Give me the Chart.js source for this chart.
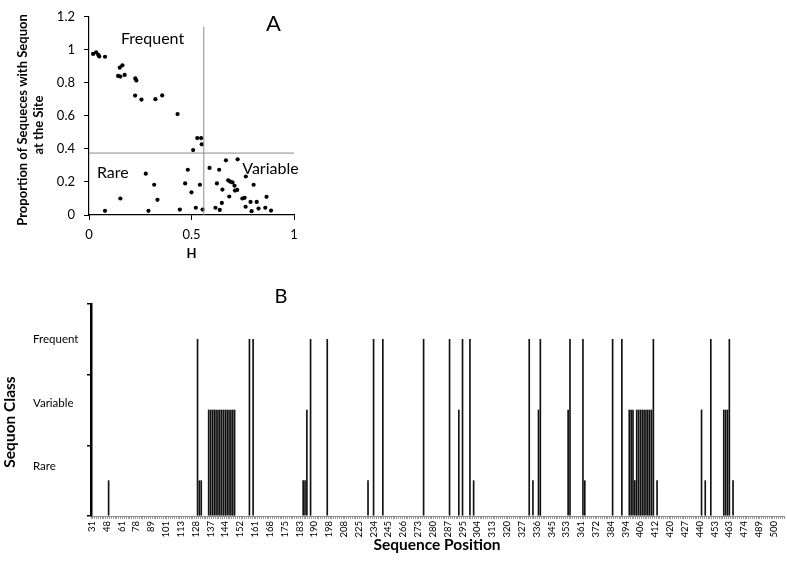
<!DOCTYPE html>
<html><head><meta charset="utf-8">
<script src="https://cdn.jsdelivr.net/npm/chart.js@4/dist/chart.umd.min.js"></script>
<style>
html,body{margin:0;padding:0;background:#fff;}
body{width:787px;height:563px;position:relative;overflow:hidden;}
#a{position:absolute;left:0;top:0;width:310px;height:268px;}
#b{position:absolute;left:0;top:270px;width:787px;height:293px;}
</style></head><body>
<canvas id="a" width="310" height="268"></canvas>
<canvas id="b" width="787" height="293"></canvas>
<script>
const FONT = 'Lato, "Open Sans", sans-serif';

// ---------- Panel A data ----------
const hValues = [0.02,0.035,0.045,0.05,0.078,0.142,0.153,0.150,0.163,0.174,0.226,0.231,0.225,0.256,0.324,0.357,0.432,0.528,0.547,0.550,0.508,
  0.482,0.469,0.500,0.443,0.521,0.554,0.541,0.277,0.318,0.334,0.290,0.153,0.078,
  0.588,0.668,0.725,0.635,0.624,0.651,0.648,0.617,0.638,0.679,0.689,0.700,0.710,0.712,0.723,0.684,0.765,0.748,0.759,0.764,0.788,0.803,0.793,0.818,0.827,0.866,0.860,0.888];
const proportionValues = [0.975,0.985,0.970,0.960,0.958,0.842,0.838,0.892,0.906,0.848,0.827,0.815,0.723,0.699,0.701,0.724,0.611,0.466,0.466,0.428,0.393,
  0.274,0.191,0.137,0.033,0.044,0.033,0.183,0.250,0.183,0.092,0.025,0.100,0.025,
  0.285,0.331,0.337,0.274,0.191,0.154,0.073,0.044,0.031,0.210,0.202,0.197,0.177,0.148,0.152,0.112,0.233,0.100,0.104,0.050,0.079,0.183,0.023,0.079,0.039,0.110,0.044,0.027];
const hThreshold = 0.56;
const proportionThreshold = 0.375;
const aXTicks = [0, 0.5, 1];
const aYTicks = [0, 0.2, 0.4, 0.6, 0.8, 1, 1.2];

// ---------- Panel B data ----------
const positionTickLabels = [31,48,61,78,89,101,113,128,137,144,152,161,168,175,183,190,198,208,225,234,245,266,273,280,287,295,304,313,320,327,336,345,353,361,372,384,394,406,412,420,427,440,453,463,474,489,500];
const categoryCount = 374;
const frequentSites = [57,85,87,118,127,152,157,179,193,200,204,236,242,258,265,281,286,303,334,344];
const variableSites = [63,64,65,66,67,68,69,70,71,72,73,74,75,76,77,116,198,241,257,290,291,292,294,295,296,297,298,299,300,301,302,329,341,342,343];
const rareSites = [9,58,59,114,115,149,206,238,266,293,305,331,346];
const classNames = ['Rare','Variable','Frequent'];
const classHeights = [0.5,1.5,2.5];

// ---------- Panel A ----------
const annotA = {
  id:'annotA',
  afterDraw(chart){
    const {ctx, scales:{x,y}} = chart;
    ctx.save();
    ctx.fillStyle = '#000';
    ctx.textAlign = 'center'; ctx.textBaseline = 'middle';
    ctx.font = `16px ${FONT}`;
    [['Frequent',0.31,1.067],['Rare',0.116,0.254],['Variable',0.885,0.277]].forEach(([t,vx,vy]) =>
      ctx.fillText(t, x.getPixelForValue(vx), y.getPixelForValue(vy)));
    ctx.font = `22px ${FONT}`;
    ctx.fillText('A', x.getPixelForValue(0.9), y.getPixelForValue(1.154));
    ctx.font = `bold 13px ${FONT}`;
    ctx.fillText('H', (x.left + x.right)/2, 254);
    ctx.save(); ctx.translate(22.5,120); ctx.rotate(-Math.PI/2);
    ctx.fillText('Proportion of Sequeces with Sequon',0,0); ctx.restore();
    ctx.save(); ctx.translate(38.5,125); ctx.rotate(-Math.PI/2);
    ctx.fillText('at the Site',0,0); ctx.restore();
    ctx.restore();
  }
};

new Chart(document.getElementById('a'), {
  type:'scatter',
  data:{datasets:[
    {type:'line', data:[{x:0,y:proportionThreshold},{x:1,y:proportionThreshold}], borderColor:'#8a8a8a', borderWidth:1, pointRadius:0, fill:false},
    {type:'line', data:[{x:hThreshold,y:0},{x:hThreshold,y:1.14}], borderColor:'#8a8a8a', borderWidth:1, pointRadius:0, fill:false},
    {data:hValues.map((h,i)=>({x:h,y:proportionValues[i]})), pointRadius:2.1, pointBackgroundColor:'#000', pointBorderWidth:0, showLine:false}
  ]},
  options:{
    responsive:false, animation:false, devicePixelRatio:1,
    layout:{padding:{left:0,top:7,right:16,bottom:0}},
    plugins:{legend:{display:false}, tooltip:{enabled:false}},
    scales:{
      x:{type:'linear', min:0, max:1,
        afterBuildTicks:s=>{ s.ticks = aXTicks.map(v=>({value:v})); },
        afterFit:s=>{ s.height = 53; },
        ticks:{font:{family:FONT,size:13}, color:'#000', padding:7, maxRotation:0, callback:v=>String(v)},
        grid:{drawOnChartArea:false, tickLength:5, color:'#000'},
        border:{color:'#000', width:1.2}},
      y:{type:'linear', min:0, max:1.2,
        afterBuildTicks:s=>{ s.ticks = aYTicks.map(v=>({value:v})); },
        afterFit:s=>{ s.width = 89; },
        ticks:{font:{family:FONT,size:13}, color:'#000', padding:9, callback:v=>String(+v.toFixed(1))},
        grid:{drawOnChartArea:false, tickLength:5, color:'#000'},
        border:{color:'#000', width:1.2}}
    }
  },
  plugins:[annotA]
});

// ---------- Panel B ----------
const categoryLabels = [];
for (let i = 0; i < categoryCount; i++) categoryLabels.push(i % 8 === 0 ? String(positionTickLabels[i/8]) : '');
const classValues = new Array(categoryCount).fill(null);
rareSites.forEach(i => classValues[i] = classHeights[0]);
variableSites.forEach(i => classValues[i] = classHeights[1]);
frequentSites.forEach(i => classValues[i] = classHeights[2]);

const annotB = {
  id:'annotB',
  afterDraw(chart){
    const {ctx, scales:{x,y}} = chart;
    ctx.save();
    ctx.fillStyle = '#000';
    ctx.font = `9.5px ${FONT}`;
    ctx.textAlign = 'right'; ctx.textBaseline = 'middle';
    positionTickLabels.forEach((lab,k) => {
      ctx.save(); ctx.translate(x.getPixelForValue(k*8), y.bottom + 5); ctx.rotate(-Math.PI/2);
      ctx.fillText(String(lab),0,0); ctx.restore();
    });
    ctx.font = `11.5px ${FONT}`;
    ctx.textAlign = 'left';
    const labelPos = [0.7, 1.6, 2.5];
    classNames.forEach((n,i) => ctx.fillText(n, 33, y.getPixelForValue(labelPos[i])));
    ctx.textAlign = 'center';
    ctx.font = `bold 15.5px ${FONT}`;
    ctx.fillText('Sequence Position', 437, 275);
    ctx.save(); ctx.translate(10, 152); ctx.rotate(-Math.PI/2);
    ctx.fillText('Sequon Class',0,0); ctx.restore();
    ctx.font = `20px ${FONT}`;
    ctx.fillText('B', 281, 27);
    ctx.restore();
  }
};

new Chart(document.getElementById('b'), {
  type:'bar',
  data:{labels:categoryLabels, datasets:[{data:classValues, backgroundColor:'#111', borderWidth:0, barThickness:1}]},
  options:{
    responsive:false, animation:false, devicePixelRatio:1,
    layout:{padding:{left:87, top:34, right:3, bottom:44}},
    plugins:{legend:{display:false}, tooltip:{enabled:false}},
    scales:{
      x:{type:'category', offset:true,
        ticks:{display:false},
        grid:{offset:true, drawOnChartArea:false, tickLength:3, color:'#9a9a9a', lineWidth:1},
        border:{color:'#8a8a8a', width:1}},
      y:{type:'linear', min:0, max:3,
        ticks:{display:false, stepSize:1},
        grid:{drawOnChartArea:false, tickLength:4, color:'#000', lineWidth:1.5},
        border:{color:'#000', width:2.5}}
    }
  },
  plugins:[annotB]
});
</script>
</body></html>
